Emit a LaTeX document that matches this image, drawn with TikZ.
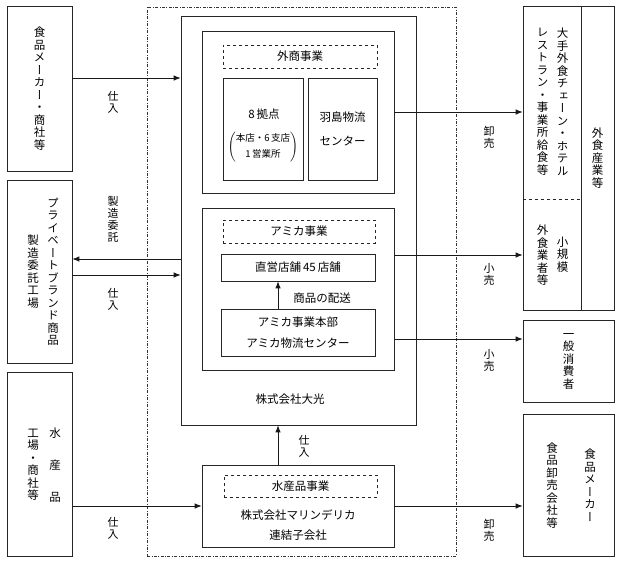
\documentclass[tikz,border=0pt]{standalone}
\usepackage{fontspec}
\setmainfont{Noto Sans CJK JP}
\newfontfamily\jpv[RawFeature=+vert]{Noto Sans CJK JP}
\usepackage{tikz}
\usetikzlibrary{shapes,arrows.meta,positioning,calc}

% vertical writing: one character per line
\newcommand\tate[1]{\tatefirst#1\relax}
\def\tatefirst#1{#1\tatenext}
\def\tatenext#1{\ifx\relax#1\else\\#1\expandafter\tatenext\fi}

\tikzset{
    box/.style={draw=black!85, line width=0.7pt, inner sep=0pt},
    tag/.style={draw=black!85, dashed, line width=0.6pt, inner sep=0pt},
    grp/.style={draw=black!80, line width=0.6pt, dash pattern=on 3pt off 1.5pt on 0.8pt off 1.5pt},
    arr/.style={-{Latex[length=7pt,width=5.5pt]}, line width=0.8pt, black!90},
    txt/.style={font=\fontsize{11.5}{14}\selectfont, inner sep=0pt, align=center},
    vtxt/.style={font=\jpv\fontsize{11.5}{12.5}\selectfont, inner sep=0pt, align=center},
    lbl/.style={font=\jpv\fontsize{11}{12}\selectfont, inner sep=0pt, align=center}
}

\begin{document}
\begin{tikzpicture}[x=1pt, y=-1pt]
    \useasboundingbox (0,0) rectangle (620,563);

    % suppliers (left)
    \node[box, vtxt, minimum width=65pt, minimum height=165pt] (maker) at (39.5,88.5) {\tate{食品メーカー・商社等}};
    \node[box, minimum width=65pt, minimum height=183pt] (pbfact) at (39.5,271.5) {};
    \node[vtxt] (pbtxt) at (53,272) {\tate{プライベートブランド商品}};
    \node[vtxt] (pbtxt2) at (33,271.5) {\tate{製造委託工場}};
    \node[box, minimum width=65pt, minimum height=184pt] (seafood) at (39.5,464) {};
    \node[vtxt] (seatxt) at (55,465) {水\\[19.5pt]産\\[19.5pt]品};
    \node[vtxt] (seatxt2) at (33,465) {\tate{工場・商社等}};

    % group (dash-dot)
    \node[grp, minimum width=309pt, minimum height=549pt] (group) at (301.5,281.5) {};

    % Daiko
    \node[box, minimum width=235pt, minimum height=409pt] (daiko) at (298.5,220.5) {};
    \node[txt] (daikotxt) at (290,399) {株式会社大光};

    % gaisho business
    \node[box, minimum width=192pt, minimum height=162pt] (gaisho) at (298,112) {};
    \node[tag, txt, minimum width=154pt, minimum height=23pt] (gaishotag) at (300,56.5) {外商事業};
    \node[box, minimum width=80pt, minimum height=102pt] (kyoten) at (263,129) {};
    \node[txt] (kyotentxt) at (264,114) {8\,拠点};
    \node[txt, font=\fontsize{9.5}{11}\selectfont] (kyotensub) at (263,147)
        {$\left(\vcenter{\hbox{\begin{tabular}{@{}c@{}}本店・6\,支店\\[5pt]1\,営業所\end{tabular}}}\right)$};
    \node[box, txt, font=\fontsize{11.5}{24}\selectfont, minimum width=69pt, minimum height=102pt] (hashima) at (342.5,129) {羽島物流\\センター};

    % amika business
    \node[box, minimum width=192pt, minimum height=162pt] (amika) at (298,289) {};
    \node[tag, txt, minimum width=152pt, minimum height=23pt] (amikatag) at (299,231.5) {アミカ事業};
    \node[box, txt, minimum width=154pt, minimum height=27pt] (chokuei) at (298,267.5) {直営店舗\,45\,店舗};
    \node[box, txt, font=\fontsize{11.5}{21}\selectfont, minimum width=154pt, minimum height=47pt] (honbu) at (298,332.5) {アミカ事業本部\\アミカ物流センター};
    \node[txt] (haiso) at (322,298.5) {商品の配送};

    % marine delica
    \node[box, minimum width=192pt, minimum height=82pt] (marine) at (298,506) {};
    \node[tag, txt, minimum width=153pt, minimum height=22pt] (marinetag) at (300.5,486) {水産品事業};
    \node[txt, font=\fontsize{11.5}{20}\selectfont] (marinetxt) at (298,525) {株式会社マリンデリカ\\連結子会社};

    % customers (right)
    \node[box, minimum width=58pt, minimum height=304pt] (gaishoku) at (552,158) {};
    \node[box, vtxt, minimum width=33pt, minimum height=304pt] (gaishoku2) at (597.5,158) {\tate{外食産業等}};
    \node[vtxt, anchor=north] (chaintxt) at (562.5,28) {\tate{大手外食チェーン・ホテル}};
    \node[vtxt, anchor=north] (resttxt) at (542.5,28) {\tate{レストラン・事業所給食等}};
    \node[vtxt] (smalltxt) at (562.5,254.5) {\tate{小規模}};
    \node[vtxt] (smalltxt2) at (542.5,255.5) {\tate{外食業者等}};
    \node[box, vtxt, minimum width=91pt, minimum height=82pt] (consumer) at (568.5,361) {\tate{一般消費者}};
    \node[box, minimum width=91pt, minimum height=142pt] (wholesale) at (568.5,485) {};
    \node[vtxt] (wstxt) at (590,485) {\tate{食品メーカー}};
    \node[vtxt] (wstxt2) at (552,485.5) {\tate{食品卸売会社等}};
    \draw[dashed, line width=0.6pt, black!85] ($(gaishoku.north west)!0.635!(gaishoku.south west)$) coordinate (dv) -- (dv -| gaishoku.east);

    % flows in
    \draw[arr] ([yshift=10.5pt]maker.east) coordinate (p1) -- (p1 -| daiko.west);
    \draw[arr] ([yshift=12.5pt]pbfact.east) coordinate (p2) (p2 -| daiko.west) -- (p2);
    \draw[arr] ([yshift=-3.5pt]pbfact.east) coordinate (p3) -- (p3 -| daiko.west);
    \draw[arr] (seafood.east |- marine.west) -- (marine.west);
    \draw[arr] ([xshift=-20pt]marine.north) coordinate (p9) -- (p9 |- daiko.south);
    \draw[arr] ([xshift=-20pt]honbu.north) coordinate (p10) -- (p10 |- chokuei.south);

    % flows out
    \draw[arr] (gaisho.east) -- (gaisho.east -| gaishoku.west);
    \draw[arr] ([yshift=34pt]amika.east) coordinate (p6) -- (p6 -| gaishoku.west);
    \draw[arr] ([yshift=-50pt]amika.east) coordinate (p7) -- (p7 -| consumer.west);
    \draw[arr] (marine.east) -- (marine.east -| wholesale.west);

    % flow labels
    \node[lbl] (shiire1) at (113,102.5) {\tate{仕入}};
    \node[lbl] (itaku) at (113,219) {\tate{製造委託}};
    \node[lbl] (shiire2) at (113,299) {\tate{仕入}};
    \node[lbl] (shiire3) at (113,528) {\tate{仕入}};
    \node[lbl] (shiire4) at (304,446) {\tate{仕入}};
    \node[lbl] (oroshi1) at (489,137) {\tate{卸売}};
    \node[lbl] (kouri1) at (489,274) {\tate{小売}};
    \node[lbl] (kouri2) at (489,360) {\tate{小売}};
    \node[lbl] (oroshi2) at (489,530) {\tate{卸売}};
\end{tikzpicture}
\end{document}
